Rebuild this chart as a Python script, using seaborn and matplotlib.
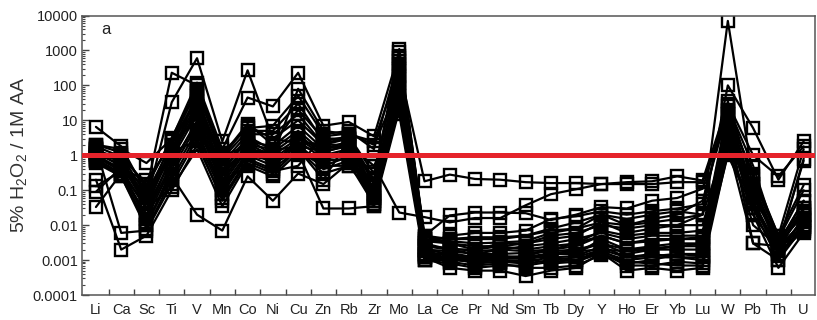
import numpy as np
import pandas as pd
import seaborn as sns
import matplotlib.pyplot as plt
from matplotlib.ticker import LogLocator, FixedLocator, NullFormatter

elements = ["Li", "Ca", "Sc", "Ti", "V", "Mn", "Co", "Ni", "Cu", "Zn", "Rb", "Zr", "Mo",
            "La", "Ce", "Pr", "Nd", "Sm", "Tb", "Dy", "Y", "Ho", "Er", "Yb", "Lu",
            "W", "Pb", "Th", "U"]

# Leaching ratios (5% H2O2 / 1M AA) per sample, in element order
s01 = [1.5, 0.6, 0.1, 230, 100, 1.0, 8, 2, 20, 3, 3, 0.1, 400,
       0.003, 0.002, 0.0015, 0.002, 0.0025, 0.003, 0.004, 0.006, 0.004, 0.005, 0.005, 0.005,
       20, 0.1, 0.003, 0.05]
s02 = [1.2, 0.5, 0.05, 33, 600, 2.5, 270, 3, 10, 2, 2, 0.2, 1100,
       0.004, 0.003, 0.002, 0.003, 0.003, 0.004, 0.005, 0.012, 0.006, 0.008, 0.01, 0.02,
       7000, 0.2, 0.004, 0.1]
s03 = [2, 1.5, 0.6, 3, 120, 1.5, 45, 25, 230, 7, 9, 3.5, 900,
       0.005, 0.004, 0.004, 0.004, 0.005, 0.007, 0.008, 0.02, 0.01, 0.012, 0.015, 0.02,
       100, 6, 0.2, 2.5]
s04 = [1.0, 0.4, 0.2, 2, 50, 0.5, 3, 1, 80, 5, 4, 2.5, 300,
       0.18, 0.28, 0.21, 0.2, 0.17, 0.16, 0.16, 0.15, 0.17, 0.18, 0.25, 0.19,
       30, 1, 0.25, 1.8]
s05 = [0.7, 0.3, 0.02, 1, 20, 0.3, 2, 0.5, 3, 1.5, 2, 0.5, 0.023,
       0.017, 0.012, 0.016, 0.016, 0.037, 0.077, 0.107, 0.15, 0.15, 0.15, 0.17, 0.17,
       15, 0.3, 0.005, 1.5]
s06 = [1.8, 0.9, 0.15, 2.5, 70, 1.2, 6, 7, 50, 4, 5, 1.5, 600,
       0.005, 0.019, 0.023, 0.023, 0.022, 0.014, 0.02, 0.033, 0.03, 0.05, 0.06, 0.11,
       25, 0.5, 0.003, 0.7]
s07 = [6.5, 1.8, 0.08, 2, 40, 0.8, 5, 5, 30, 2.5, 3.5, 0.3, 500,
       0.003, 0.005, 0.006, 0.006, 0.007, 0.015, 0.018, 0.025, 0.02, 0.025, 0.03, 0.04,
       35, 0.15, 0.002, 0.03]
s08 = [1.3, 0.7, 0.06, 1.5, 30, 0.6, 4, 4, 15, 2, 3, 0.15, 250,
       0.002, 0.0015, 0.001, 0.0012, 0.0013, 0.002, 0.003, 0.005, 0.003, 0.004, 0.004, 0.004,
       12, 0.08, 0.003, 0.02]
s09 = [1.2, 0.5, 0.04, 1.2, 25, 0.4, 2.5, 1.8, 7, 1.5, 2.5, 0.08, 200,
       0.0015, 0.0012, 0.0008, 0.0009, 0.001, 0.0015, 0.0015, 0.004, 0.002, 0.0025, 0.003, 0.003,
       10, 0.05, 0.002, 0.014]
s10 = [1.0, 0.4, 0.03, 0.8, 15, 0.25, 2, 1.5, 5, 1.2, 2, 0.06, 150,
       0.001, 0.0008, 0.0006, 0.0007, 0.0007, 0.0009, 0.001, 0.0019, 0.0008, 0.001, 0.0015, 0.0015,
       8, 0.04, 0.0015, 0.009]
s11 = [0.9, 0.35, 0.015, 0.5, 10, 0.2, 1.5, 1.2, 4, 1, 1.5, 0.05, 120,
       0.0012, 0.0006, 0.0005, 0.0005, 0.00035, 0.0005, 0.0006, 0.0016, 0.0005, 0.0006, 0.0005, 0.0006,
       6, 0.02, 0.0006, 0.006]
s12 = [0.8, 0.3, 0.01, 0.4, 7, 0.15, 1.5, 1, 3, 1, 1.2, 0.04, 100,
       0.002, 0.0018, 0.0015, 0.0015, 0.0016, 0.0018, 0.002, 0.003, 0.0015, 0.002, 0.002, 0.002,
       5, 0.03, 0.003, 0.02]
s13 = [0.7, 0.25, 0.01, 0.3, 5, 0.12, 1.2, 0.8, 2.5, 0.8, 1, 0.035, 80,
       0.0025, 0.002, 0.002, 0.0025, 0.003, 0.005, 0.006, 0.01, 0.008, 0.01, 0.01, 0.01,
       4, 0.06, 0.004, 0.03]
s14 = [0.6, 0.25, 0.008, 0.2, 4, 0.1, 1, 0.7, 2, 0.5, 0.9, 0.1, 60,
       0.0018, 0.0013, 0.0012, 0.0011, 0.0012, 0.0012, 0.0013, 0.0025, 0.0012, 0.0015, 0.0012, 0.001,
       3, 0.1, 0.002, 0.01]
s15 = [1.6, 0.006, 0.007, 0.15, 3, 0.08, 1, 0.5, 2, 0.4, 0.7, 0.12, 50,
       0.001, 0.001, 0.0009, 0.001, 0.0009, 0.0012, 0.001, 0.0017, 0.001, 0.0012, 0.0012, 0.0012,
       2.5, 0.12, 0.0025, 0.012]
s16 = [0.2, 0.002, 0.005, 0.1, 2, 0.06, 0.8, 0.4, 1.5, 0.3, 0.5, 0.07, 40,
       0.0013, 0.0011, 0.0013, 0.0013, 0.0011, 0.0008, 0.0009, 0.0016, 0.0007, 0.0007, 0.0009, 0.0008,
       2, 0.003, 0.0025, 0.008]
s17 = [0.13, 0.35, 0.03, 0.12, 1.5, 0.035, 0.6, 0.3, 1.5, 0.2, 2.8, 0.05, 30,
       0.0035, 0.003, 0.0025, 0.0025, 0.002, 0.0025, 0.003, 0.007, 0.005, 0.006, 0.006, 0.007,
       1.5, 0.15, 0.003, 0.05]
s18 = [0.09, 0.45, 0.012, 0.25, 0.02, 0.007, 0.25, 0.05, 0.3, 0.15, 0.6, 0.04, 25,
       0.0012, 0.0009, 0.0007, 0.0008, 0.0006, 0.0006, 0.0007, 0.0014, 0.0009, 0.0008, 0.0007, 0.0007,
       1.2, 0.04, 0.0015, 0.007]
s19 = [0.033, 0.3, 0.02, 0.6, 8, 0.18, 0.5, 0.25, 1.2, 0.03, 0.03, 0.035, 20,
       0.0015, 0.0011, 0.001, 0.0011, 0.0011, 0.0015, 0.0018, 0.002, 0.0018, 0.002, 0.0025, 0.0025,
       8, 0.003, 0.001, 0.009]
s20 = [2, 1.2, 0.12, 3.2, 80, 0.9, 7, 3, 2.2, 2.2, 3.2, 0.2, 700,
       0.004, 0.0035, 0.003, 0.0032, 0.0035, 0.006, 0.008, 0.012, 0.01, 0.015, 0.02, 0.05,
       18, 0.25, 0.005, 0.14]
s21 = [1.4, 0.8, 0.05, 2.8, 35, 0.3, 3.5, 1.4, 1.8, 1.3, 1.8, 0.09, 350,
       0.0025, 0.0022, 0.0018, 0.002, 0.0018, 0.002, 0.0025, 0.005, 0.003, 0.0035, 0.004, 0.0045,
       15, 0.07, 0.0035, 0.025]
s22 = [1.1, 0.7, 0.03, 1.8, 12, 0.18, 2.2, 0.9, 1, 0.7, 0.8, 0.06, 180,
       0.0014, 0.0016, 0.0012, 0.0013, 0.0012, 0.0016, 0.0018, 0.003, 0.002, 0.0022, 0.0025, 0.003,
       7, 0.02, 0.0018, 0.016]
s23 = [0.75, 1.0, 0.07, 1.3, 2.5, 0.05, 0.7, 0.35, 0.5, 3.5, 4.2, 2, 90,
       0.0045, 0.004, 0.0045, 0.0045, 0.005, 0.008, 0.012, 0.02, 0.015, 0.02, 0.025, 0.02,
       3, 0.01, 0.0025, 0.8]
s24 = [1.5, 0.6, 0.06, 1, 60, 1, 1.8, 0.6, 1.3, 0.5, 0.5, 0.5, 15,
       0.001, 0.0012, 0.0011, 0.0009, 0.0008, 0.001, 0.0012, 0.002, 0.0012, 0.0013, 0.0015, 0.0013,
       1, 0.03, 0.001, 0.02]

samples = {
    "S01": s01, "S02": s02, "S03": s03, "S04": s04, "S05": s05, "S06": s06,
    "S07": s07, "S08": s08, "S09": s09, "S10": s10, "S11": s11, "S12": s12,
    "S13": s13, "S14": s14, "S15": s15, "S16": s16, "S17": s17, "S18": s18,
    "S19": s19, "S20": s20, "S21": s21, "S22": s22, "S23": s23, "S24": s24,
}

rows = []
for name, vals in samples.items():
    for i, (el, v) in enumerate(zip(elements, vals)):
        rows.append({"sample": name, "pos": i, "element": el, "value": v})
df = pd.DataFrame(rows)

sns.set_theme(style="white")
plt.rcParams["font.family"] = ["Liberation Sans", "DejaVu Sans"]
plt.rcParams["mathtext.default"] = "regular"

fig = plt.figure(figsize=(8.17, 3.2), dpi=100)
ax = fig.add_axes([0.1004, 0.078, 0.8972, 0.8735])

sns.lineplot(data=df, x="pos", y="value", units="sample", estimator=None,
             color="black", linewidth=1.6, marker="s", markersize=8.5,
             markerfacecolor="none", markeredgecolor="black",
             markeredgewidth=1.7, legend=False, ax=ax, sort=False)

ax.axhline(1, color="#e5232b", linewidth=3.6, zorder=10)

ax.set_yscale("log")
ax.set_ylim(1e-4, 1e4)
ax.set_xlim(-0.55, 28.45)

yt = [1e-4, 1e-3, 1e-2, 1e-1, 1, 10, 100, 1000, 10000]
ytl = ["0.0001", "0.001", "0.01", "0.1", "1", "10", "100", "1000", "10000"]
ax.set_yticks(yt)
ax.set_yticklabels(ytl)
ax.yaxis.set_minor_locator(LogLocator(base=10, subs=np.arange(2, 10), numticks=20))
ax.yaxis.set_minor_formatter(NullFormatter())

ax.set_xticks(range(len(elements)))
ax.set_xticklabels(elements)
ax.xaxis.set_minor_locator(FixedLocator(np.arange(0.5, len(elements) - 1, 1.0)))

ax.tick_params(axis="x", which="major", length=0, pad=6, labelsize=10.5, colors="#222222")
ax.tick_params(axis="x", which="minor", direction="in", length=4, width=1, color="#444444",
               bottom=True, top=False)
ax.tick_params(axis="y", which="major", direction="in", length=5, width=1, color="#444444",
               labelsize=10.5, labelcolor="#222222", left=True, right=False, pad=3)
ax.tick_params(axis="y", which="minor", direction="in", length=2.5, width=0.8, color="#444444",
               left=True, right=False)

for sp in ax.spines.values():
    sp.set_color("#555555")
    sp.set_linewidth(1.1)

ax.set_xlabel("")
ax.set_ylabel("5% H$_2$O$_2$ / 1M AA", fontsize=14, color="#333333", labelpad=3)
ax.text(0.033, 0.95, "a", transform=ax.transAxes, fontsize=12, va="center", ha="center",
        color="#222222")

fig.savefig("out.png", dpi=100)
